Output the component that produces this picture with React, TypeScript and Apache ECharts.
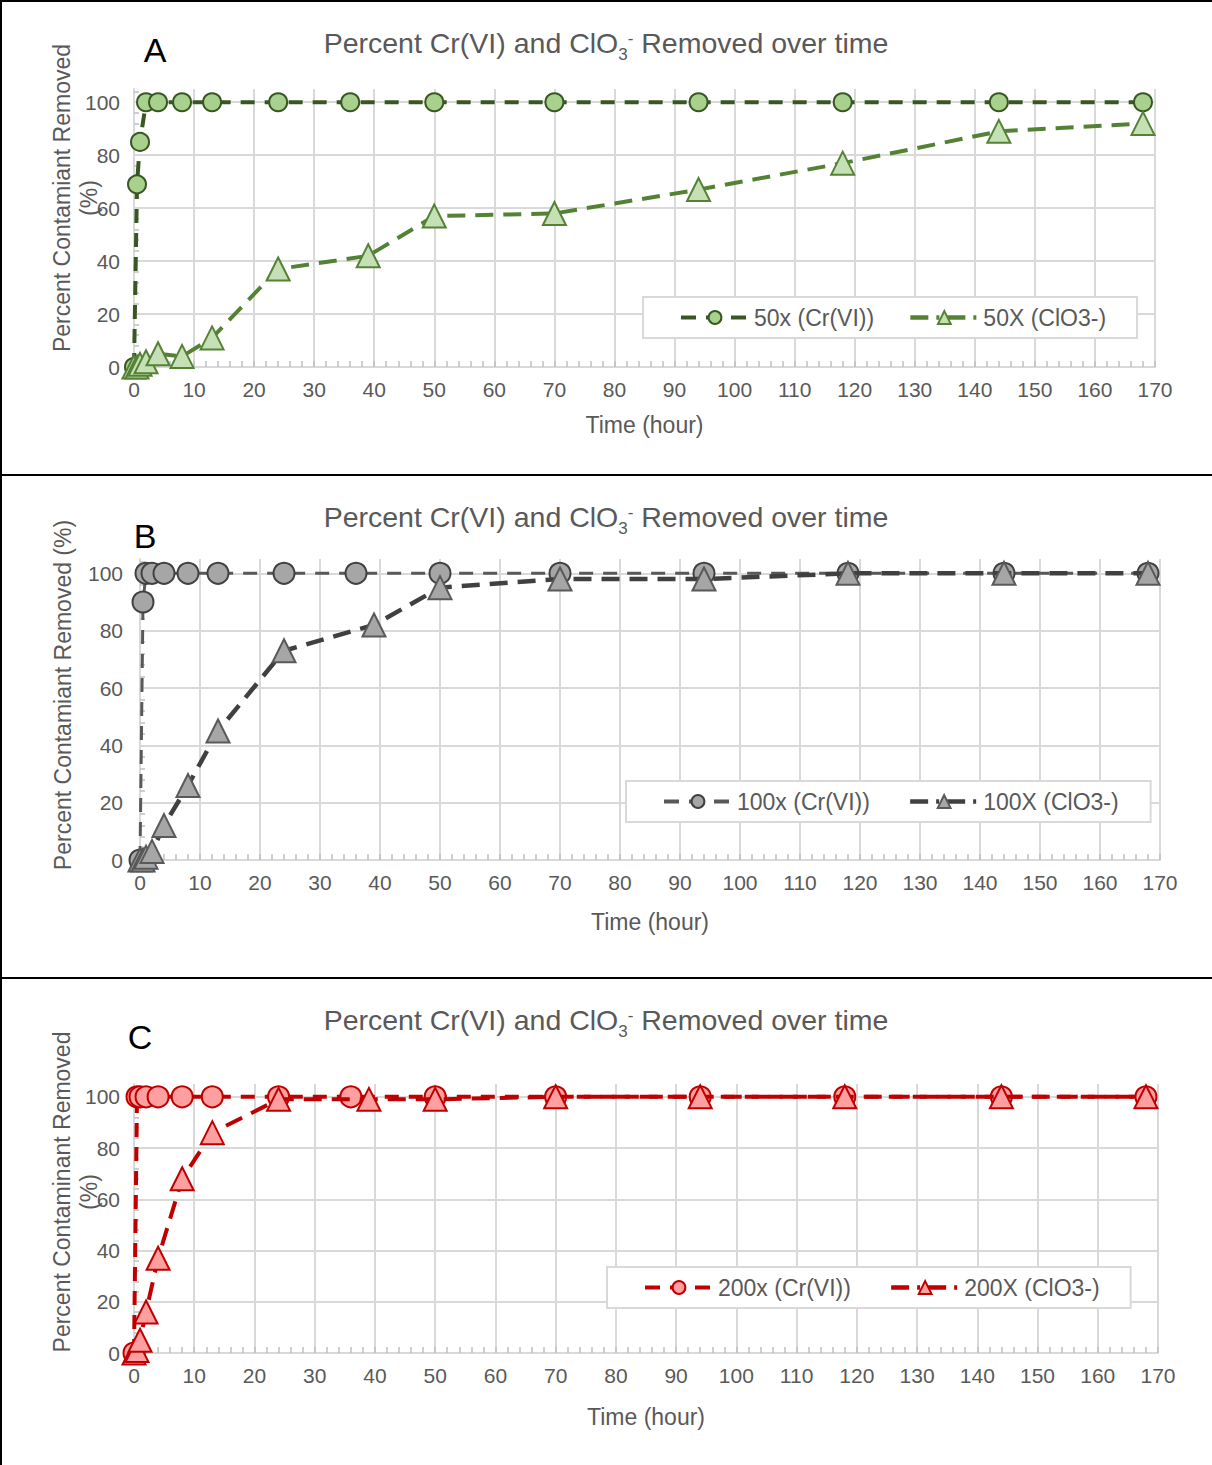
import React, { useEffect, useRef } from "react";
import * as echarts from "echarts";

// ---- data ----
const timeCr = [0, 0.5, 1, 2, 4, 8, 13, 24, 36, 50, 70, 94, 118, 144, 168];
const timeClO3 = [0, 0.5, 1, 2, 4, 8, 13, 24, 39, 50, 70, 94, 118, 144, 168];

const crA = [0, 69, 85, 100, 100, 100, 100, 100, 100, 100, 100, 100, 100, 100, 100];
const clo3A = [0, 0, 1, 2, 5, 4, 11, 37, 42, 57, 58, 67, 77, 89, 92];

const crB = [0, 90, 100, 100, 100, 100, 100, 100, 100, 100, 100, 100, 100, 100, 100];
const clo3B = [0, 0, 1, 3, 12, 26, 45, 73, 82, 95, 98, 98, 100, 100, 100];

const crC = [0, 100, 100, 100, 100, 100, 100, 100, 100, 100, 100, 100, 100, 100, 100];
const clo3C = [0, 1, 5, 16, 37, 68, 86, 99, 99, 99, 100, 100, 100, 100, 100];

const namesA = ["50x (Cr(VI))", "50X (ClO3-)"];
const namesB = ["100x (Cr(VI))", "100X (ClO3-)"];
const namesC = ["200x (Cr(VI))", "200X (ClO3-)"];

const yTitleA = ["Percent Contamiant Removed", "(%)"];
const yTitleB = ["Percent Contamiant Removed (%)"];
const yTitleC = ["Percent Contaminant Removed", "(%)"];
const xTitle = "Time (hour)";
const panelLetters = ["A", "B", "C"];

const FONT = "'Liberation Sans', Arial, sans-serif";
const GRAY_TXT = "#595959";
const GRID_CLR = "#D9D9D9";

const zip = (xs: number[], ys: number[]) => xs.map((x, i) => [x, ys[i]]);

export default function App() {
  const ref = useRef<HTMLDivElement>(null);
  useEffect(() => {
    document.body.style.margin = "0";
    const chart = echarts.init(ref.current!, null, { renderer: "svg" });

    const panels = [
      { top: 89, left: 134, right: 57, height: 278, ylm: 14, nameGap: 46, titleTop: 23,
        legend: { left: 643, top: 297, gap: 34, padR: 31 } },
      { top: 559, left: 140, right: 52, height: 301, ylm: 17, nameGap: 50, titleTop: 497,
        legend: { left: 626, top: 781, gap: 38, padR: 32 } },
      { top: 1084, left: 134, right: 54, height: 269, ylm: 14, nameGap: 52, titleTop: 1000,
        legend: { left: 607, top: 1267, gap: 38, padR: 31 } },
    ];

    const grid = panels.map((p) => ({ top: p.top, left: p.left, right: p.right, height: p.height }));
    const xAxis = panels.map((p, i) => ({
      type: "value",
      gridIndex: i,
      min: 0,
      max: 170,
      interval: 10,
      name: xTitle,
      nameLocation: "middle",
      nameGap: p.nameGap,
      nameTextStyle: { fontSize: 23, color: GRAY_TXT, fontFamily: FONT },
      axisLine: { show: true, lineStyle: { color: GRID_CLR, width: 2 } },
      axisTick: { show: true, inside: true, length: 6, lineStyle: { color: "#BFBFBF", width: 1.5 } },
      minorTick: { show: true, splitNumber: 5, length: 6, lineStyle: { color: "#BFBFBF", width: 1.5 } },
      splitLine: { show: true, lineStyle: { color: GRID_CLR, width: 2 } },
      axisLabel: { fontSize: 21, color: GRAY_TXT, fontFamily: FONT, margin: 12 },
    }));
    const yAxis = panels.map((p, i) => ({
      type: "value",
      gridIndex: i,
      min: 0,
      max: 105,
      interval: 20,
      axisLine: { show: true, lineStyle: { color: GRID_CLR, width: 2 } },
      axisTick: { show: false, inside: true },
      minorTick: { show: true, splitNumber: 5, length: 5, lineStyle: { color: "#BFBFBF", width: 1.5 } },
      splitLine: { show: true, showMaxLine: false, lineStyle: { color: GRID_CLR, width: 2 } },
      axisLabel: {
        fontSize: 21, color: GRAY_TXT, fontFamily: FONT, margin: p.ylm, showMaxLabel: false,
        formatter: (v: number) => (v % 20 === 0 ? String(v) : ""),
      },
    }));

    const styles = [
      {
        names: namesA, cr: crA, cl: clo3A, crSize: 18,
        crLine: "#385723", crFill: "#A9D18E", crBorder: "#385723", crW: 4,
        clLine: "#548235", clFill: "#C5E0B4", clBorder: "#548235", clW: 4,
      },
      {
        names: namesB, cr: crB, cl: clo3B, crSize: 21,
        crLine: "#595959", crFill: "#A6A6A6", crBorder: "#404040", crW: 3,
        clLine: "#404040", clFill: "#A6A6A6", clBorder: "#595959", clW: 4.5,
      },
      {
        names: namesC, cr: crC, cl: clo3C, crSize: 21,
        crLine: "#C00000", crFill: "#FF9F9F", crBorder: "#C00000", crW: 4,
        clLine: "#C00000", clFill: "#FF9F9F", clBorder: "#C00000", clW: 4,
      },
    ];

    const series: any[] = [];
    styles.forEach((s, i) => {
      series.push({
        type: "line",
        name: s.names[0],
        xAxisIndex: i,
        yAxisIndex: i,
        data: zip(timeCr, s.cr),
        symbol: "circle",
        symbolSize: s.crSize,
        clip: false,
        lineStyle: { color: s.crLine, width: s.crW, type: [14, 10] },
        itemStyle: { color: s.crFill, borderColor: s.crBorder, borderWidth: 2 },
        z: 2,
      });
      series.push({
        type: "line",
        name: s.names[1],
        xAxisIndex: i,
        yAxisIndex: i,
        data: zip(timeClO3, s.cl),
        symbol: "triangle",
        symbolSize: 23,
        clip: false,
        lineStyle: { color: s.clLine, width: s.clW, type: [18, 10] },
        itemStyle: { color: s.clFill, borderColor: s.clBorder, borderWidth: 2 },
        z: 3,
      });
    });

    const legend = panels.map((p, i) => ({
      data: [
        {
          name: styles[i].names[0],
          lineStyle: { width: 4, type: [15, 10] },
        },
        {
          name: styles[i].names[1],
          lineStyle: { width: 4.5, type: [18, 8, 3, 8] },
        },
      ],
      left: p.legend.left,
      top: p.legend.top,
      orient: "horizontal",
      padding: [9, p.legend.padR, 9, 36],
      itemGap: p.legend.gap,
      itemWidth: 68,
      itemHeight: 16,
      borderColor: GRID_CLR,
      borderWidth: 2,
      backgroundColor: "#fff",
      textStyle: { fontSize: 23, color: GRAY_TXT, fontFamily: FONT },
    }));

    const title = panels.map((p) => ({
      text: "{t|Percent Cr(VI) and ClO}{sub|3}{sup|-}{t| Removed over time}",
      left: "center",
      top: p.titleTop,
      padding: 0,
      textStyle: {
        fontWeight: "normal",
        rich: {
          t: { fontSize: 28.5, fontWeight: "normal", color: GRAY_TXT, fontFamily: FONT, lineHeight: 40 },
          sub: { fontSize: 17, fontWeight: "normal", color: GRAY_TXT, fontFamily: FONT, lineHeight: 13, verticalAlign: "bottom" },
          sup: { fontSize: 17, fontWeight: "normal", color: GRAY_TXT, fontFamily: FONT, verticalAlign: "top", padding: [7, 0, 0, 0] },
        },
      },
    }));

    const yTitleText = (txt: string, x: number, y: number) => ({
      type: "text",
      x,
      y,
      rotation: Math.PI / 2,
      style: {
        text: txt,
        fontSize: 23,
        fontFamily: FONT,
        fill: GRAY_TXT,
        textAlign: "center",
        textVerticalAlign: "middle",
        align: "center",
        verticalAlign: "middle",
      },
      z: 10,
    });

    const letterText = (txt: string, x: number, y: number) => ({
      type: "text",
      x,
      y,
      style: {
        text: txt,
        fontSize: 34,
        fontFamily: FONT,
        fill: "#000",
        textAlign: "center",
        textVerticalAlign: "middle",
        align: "center",
        verticalAlign: "middle",
      },
      z: 10,
    });

    const hline = (y: number) => ({
      type: "line",
      shape: { x1: 0, y1: y, x2: 1212, y2: y },
      style: { stroke: "#000", lineWidth: 2 },
      z: 10,
    });

    const graphic: any[] = [
      hline(1),
      hline(475),
      hline(978),
      { type: "line", shape: { x1: 1, y1: 0, x2: 1, y2: 1465 }, style: { stroke: "#000", lineWidth: 2 }, z: 10 },
      letterText(panelLetters[0], 155, 50),
      letterText(panelLetters[1], 145, 536),
      letterText(panelLetters[2], 140, 1037),
      yTitleText(yTitleA[0], 62, 198),
      yTitleText(yTitleA[1], 89, 198),
      yTitleText(yTitleB[0], 63, 695),
      yTitleText(yTitleC[0], 62, 1192),
      yTitleText(yTitleC[1], 89, 1192),
    ];

    chart.setOption({
      animation: false,
      backgroundColor: "#fff",
      textStyle: { fontFamily: FONT },
      title,
      grid,
      xAxis,
      yAxis,
      legend,
      series,
      graphic,
    } as any);

    return () => chart.dispose();
  }, []);

  return (
    <div
      ref={ref}
      style={{ position: "absolute", left: 0, top: 0, width: 1212, height: 1465 }}
    />
  );
}
